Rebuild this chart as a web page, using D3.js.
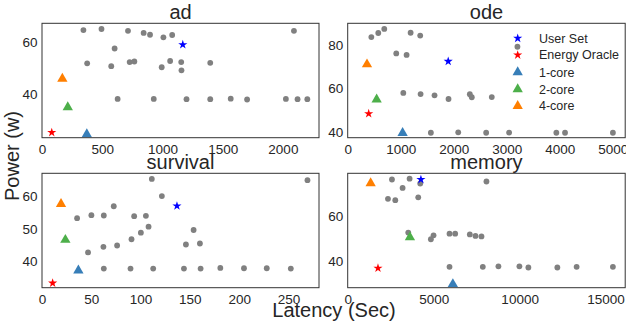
<!DOCTYPE html>
<html>
<head>
<meta charset="utf-8">
<script src="https://cdn.jsdelivr.net/npm/d3@7"></script>
<style>
  body { margin: 0; background: #fff; }
  svg text { font-family: "Liberation Sans", Arial, sans-serif; }
</style>
</head>
<body>
<div id="vis"></div>
<script>
const FRAME_WIDTH = 626;
const FRAME_HEIGHT = 321;

// gray dots: [latency, power]
const adPoints = [[344,64.7],[494,65.1],[714,64.4],[844,63.6],[897,62.9],[1008,61.9],[1081,62.8],
  [603,57.6],[375,51.9],[575,50.8],[728,52.4],[767,52.6],[1064,52.8],[994,50.4],[1156,52.4],[1158,49.2],
  [1397,52.1],[2092,64.4],[628,38.2],[928,38.2],[1200,38.1],[1397,38.1],[1567,38.3],[1703,38.0],
  [2025,38.2],[2122,38.1],[2203,38.1]];
const odePoints = [[446,84.0],[577,85.9],[690,87.8],[1187,86.0],[1368,84.7],[916,76.4],[1111,75.7],
  [3202,79.5],[1049,58.0],[1375,57.5],[1638,56.9],[1902,55.2],[2304,57.4],[2341,56.0],[2718,56.1],
  [1569,39.5],[2085,39.7],[2612,39.5],[3045,39.6],[3936,39.5],[4100,39.5],[5003,39.5]];
const survivalPoints = [[111.4,65.1],[269.3,64.7],[121.6,59.9],[35.6,53.2],[50.1,54.1],[62.7,54.0],
  [72.8,56.8],[93.5,53.8],[105.4,53.9],[108.1,50.6],[100.3,48.8],[90.8,46.8],[76.2,44.9],[62.3,44.5],
  [46.7,42.8],[153.8,49.6],[146.0,45.2],[160.2,45.5],[62.7,37.9],[89.8,37.9],[112.8,37.9],[144.0,37.9],
  [160.9,37.9],[180.9,38.1],[204.9,38.0],[228.0,38.0],[252.4,37.9]];
const memoryPoints = [[2574,76.7],[3600,77.1],[3193,72.9],[2342,68.0],[2768,67.4],[4103,68.7],[4219,74.9],
  [8070,75.8],[3522,52.8],[4838,49.8],[4993,51.6],[5922,52.3],[6251,52.3],[7103,52.0],[7432,51.3],
  [7780,51.1],[5922,37.4],[7858,37.4],[8767,37.6],[9986,37.6],[10509,37.1],[12193,37.1],[13315,37.4],
  [15425,37.4]];

// special configurations per benchmark (ad, ode, survival, memory): [latency, power]
const userSet = [[1169,59.1],[1896,72.7],[136.9,56.9],[4258,76.7]];
const energyOracle = [[81,25.3],[396,48.4],[10.8,33.5],[1761,36.8]];
const oneCore = [[372,24.6],[1036,39.4],[36.9,37.3],[6116,29.6]];
const twoCore = [[214,35.0],[546,55.0],[23.7,46.6],[3619,50.7]];
const fourCore = [[169,46.0],[364,71.3],[19.3,57.5],[1335,75.0]];

const titles = ["ad", "ode", "survival", "memory"];
const xDomains = [[0,2300],[0,5235],[0,281],[0,16140]];
const yDomains = [[23.3,67.3],[37.2,90.4],[32.1,66.8],[28.0,79.5]];
const xTicks = [[0,500,1000,1500,2000],[0,1000,2000,3000,4000,5000],[0,50,100,150,200,250],[0,5000,10000,15000]];
const yTicks = [[40,60],[40,60,80],[40,50,60],[40,60]];
const allPoints = [adPoints, odePoints, survivalPoints, memoryPoints];

const legendLabels = ["User Set", "Energy Oracle", "1-core", "2-core", "4-core"];

const PANELS = [
  {left: 42, top: 23.3, width: 277, height: 114.4},
  {left: 347.7, top: 23.3, width: 277.5, height: 114.4},
  {left: 42, top: 173.3, width: 277, height: 114.4},
  {left: 347.7, top: 173.3, width: 277.5, height: 114.4}
];

const CORE_COLORS = ["#377eb8", "#4daf4a", "#ff7f00"];
const TEXT_COLOR = "#262626";

const svg = d3.select("#vis")
  .append("svg")
  .attr("width", FRAME_WIDTH)
  .attr("height", FRAME_HEIGHT);

const star = d3.symbol().type(d3.symbolStar).size(26);
const tri = d3.symbol().type(d3.symbolTriangle).size(46);

PANELS.forEach((p, i) => {
  const g = svg.append("g").attr("transform", `translate(${p.left},${p.top})`);

  const x = d3.scaleLinear().domain(xDomains[i]).range([0, p.width]);
  const y = d3.scaleLinear().domain(yDomains[i]).range([p.height, 0]);

  // axes (no tick marks, no domain line)
  const xa = g.append("g")
    .attr("transform", `translate(0,${p.height})`)
    .call(d3.axisBottom(x).tickValues(xTicks[i]).tickSize(0).tickPadding(7).tickFormat(d3.format("d")));
  const ya = g.append("g")
    .call(d3.axisLeft(y).tickValues(yTicks[i]).tickSize(0).tickPadding(4.5).tickFormat(d3.format("d")));
  [xa, ya].forEach(a => {
    a.select(".domain").remove();
    a.selectAll("text").attr("font-size", "13.5px").attr("fill", TEXT_COLOR)
      .attr("font-family", "Liberation Sans, Arial, sans-serif");
  });

  // gray dots
  g.selectAll("circle.pt")
    .data(allPoints[i])
    .enter().append("circle")
    .attr("class", "pt")
    .attr("cx", d => x(d[0]))
    .attr("cy", d => y(d[1]))
    .attr("r", 2.9)
    .attr("fill", "#808080");

  // stars
  g.append("path")
    .attr("d", star)
    .attr("transform", `translate(${x(userSet[i][0])},${y(userSet[i][1])})`)
    .attr("fill", "blue");
  g.append("path")
    .attr("d", star)
    .attr("transform", `translate(${x(energyOracle[i][0])},${y(energyOracle[i][1])})`)
    .attr("fill", "red");

  // core triangles
  [oneCore, twoCore, fourCore].forEach((c, k) => {
    g.append("path")
      .attr("d", tri)
      .attr("transform", `translate(${x(c[i][0])},${y(c[i][1])})`)
      .attr("fill", CORE_COLORS[k]);
  });

  // frame
  g.append("rect")
    .attr("width", p.width)
    .attr("height", p.height)
    .attr("fill", "none")
    .attr("stroke", "#333")
    .attr("stroke-width", 1);

  // title
  g.append("text")
    .attr("x", p.width / 2)
    .attr("y", -4.5)
    .attr("text-anchor", "middle")
    .attr("font-size", "20px")
    .attr("fill", TEXT_COLOR)
    .text(titles[i]);
});

// legend in the ode panel
const legendY = [38.3, 55, 72.3, 89.3, 106];
const legend = svg.append("g");
legendLabels.forEach((lab, k) => {
  const sym = k < 2 ? star : tri;
  const fill = k === 0 ? "blue" : k === 1 ? "red" : CORE_COLORS[k - 2];
  legend.append("path")
    .attr("d", sym)
    .attr("transform", `translate(517.7,${legendY[k]})`)
    .attr("fill", fill);
  legend.append("text")
    .attr("x", 539)
    .attr("y", legendY[k])
    .attr("dy", "0.35em")
    .attr("font-size", "12.5px")
    .attr("fill", TEXT_COLOR)
    .text(lab);
});

// shared axis labels
svg.append("text")
  .attr("transform", "rotate(-90)")
  .attr("x", -156)
  .attr("y", 19)
  .attr("text-anchor", "middle")
  .attr("font-size", "20px")
  .attr("fill", TEXT_COLOR)
  .text("Power (w)");

svg.append("text")
  .attr("x", 334)
  .attr("y", 316.5)
  .attr("text-anchor", "middle")
  .attr("font-size", "20px")
  .attr("fill", TEXT_COLOR)
  .text("Latency (Sec)");
</script>
</body>
</html>
